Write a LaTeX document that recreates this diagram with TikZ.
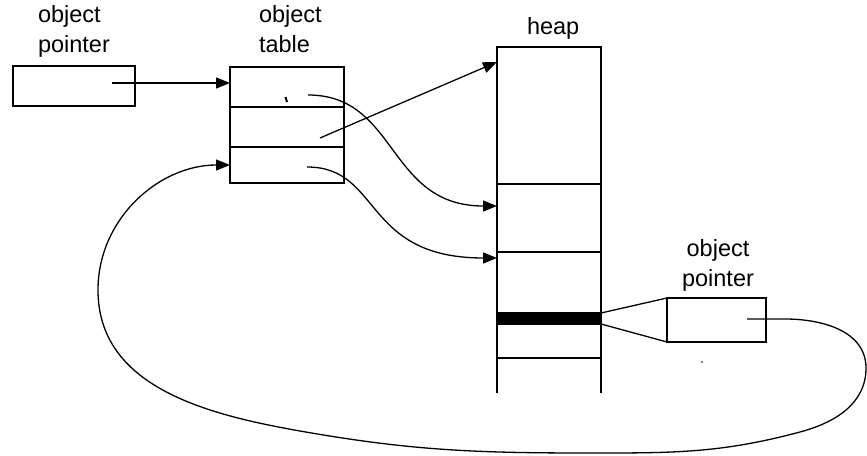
\documentclass[tikz,border=0pt]{standalone}
\usepackage{fontspec}
\setmainfont{Liberation Sans}
\usetikzlibrary{arrows.meta}
\begin{document}
\begin{tikzpicture}[x=1pt,y=1pt,
  line width=1.3pt,
  box/.style={draw, line width=1.3pt, inner sep=0pt, outer sep=0pt},
  lbl/.style={inner sep=0pt, outer sep=0pt, font=\fontsize{23.5}{30}\selectfont},
  ptr/.style={line width=1.3pt, -{Triangle[length=14pt,width=11pt]}},
  wire/.style={line width=1.3pt}]
\useasboundingbox (0,0) rectangle (867,455);

% labels (base = baseline of last line)
\node[lbl, align=left, anchor=base west] (l1) at (38,455-53) {object\\pointer};
\node[lbl, align=left, anchor=base west] (l2) at (259,455-53) {object\\table};
\node[lbl, anchor=base west] (l3) at (527,455-35) {heap};
\node[lbl, align=center, anchor=base] (l4) at (718,455-287) {object\\pointer};

% left object pointer
\node[box, minimum width=122pt, minimum height=40pt] (lp) at (74,455-86) {};

% object table
\node[box, minimum width=114pt, minimum height=40pt] (tr1) at (287,455-87) {};
\node[box, minimum width=114pt, minimum height=40pt] (tr2) at (287,455-127) {};
\node[box, minimum width=114pt, minimum height=36pt] (tr3) at (287,455-165) {};

% heap
\node[box, minimum width=104pt, minimum height=137pt] (hA) at (549,455-115.5) {};
\node[box, minimum width=104pt, minimum height=68pt] (hB) at (549,455-218) {};
\node[box, minimum width=104pt, minimum height=61pt] (hC) at (549,455-282.5) {};
\node[box, fill=black, minimum width=104pt, minimum height=11pt] (band) at (549,455-318.5) {};
\node[box, minimum width=104pt, minimum height=34pt] (hD) at (549,455-341) {};
\coordinate (hEl) at (497,455-393);
\coordinate (hEr) at (601,455-393);
\draw[wire] (hD.south west) -- (hEl);
\draw[wire] (hD.south east) -- (hEr);

% right object pointer
\node[box, minimum width=99pt, minimum height=44pt] (rp) at (716.5,455-320) {};
\draw[wire] (band.north east) -- (rp.north west);
\draw[wire] (band.south east) -- (rp.south west);

% start / end points of connectors
\coordinate (lps) at (112,455-83);
\coordinate (r1s) at (308,455-95);
\coordinate (r2s) at (320,455-138);
\coordinate (r3s) at (307,455-167);
\coordinate (hAin) at (497,455-62);
\coordinate (hBin) at (497,455-206);
\coordinate (hCin) at (497,455-258);
\coordinate (rps) at (747,455-319);

% connectors
\draw[ptr] (lps) -- (lps -| tr1.west);
\draw[ptr] (r2s) -- (hAin);
\draw[ptr] (r1s) .. controls +(90,0) and +(-110,0) .. (hBin);
\draw[ptr] (r3s) .. controls +(75,0) and +(-135,0) .. (hCin);
\draw[ptr] (rps) -- (785,455-319)
  to[out=0,in=90] (866,455-368)
  to[out=-90,in=15] (800,455-432)
  to[out=195,in=0] (590,455-453)
  to[out=180,in=-10] (300,455-431)
  to[out=170,in=-90] (98,455-290)
  to[out=90,in=180] (tr3.west);

% small marks
\draw[line width=2pt] (285.5,455-97) -- (287,455-102);
\fill (702,455-362) circle (0.9pt);
\end{tikzpicture}
\end{document}
